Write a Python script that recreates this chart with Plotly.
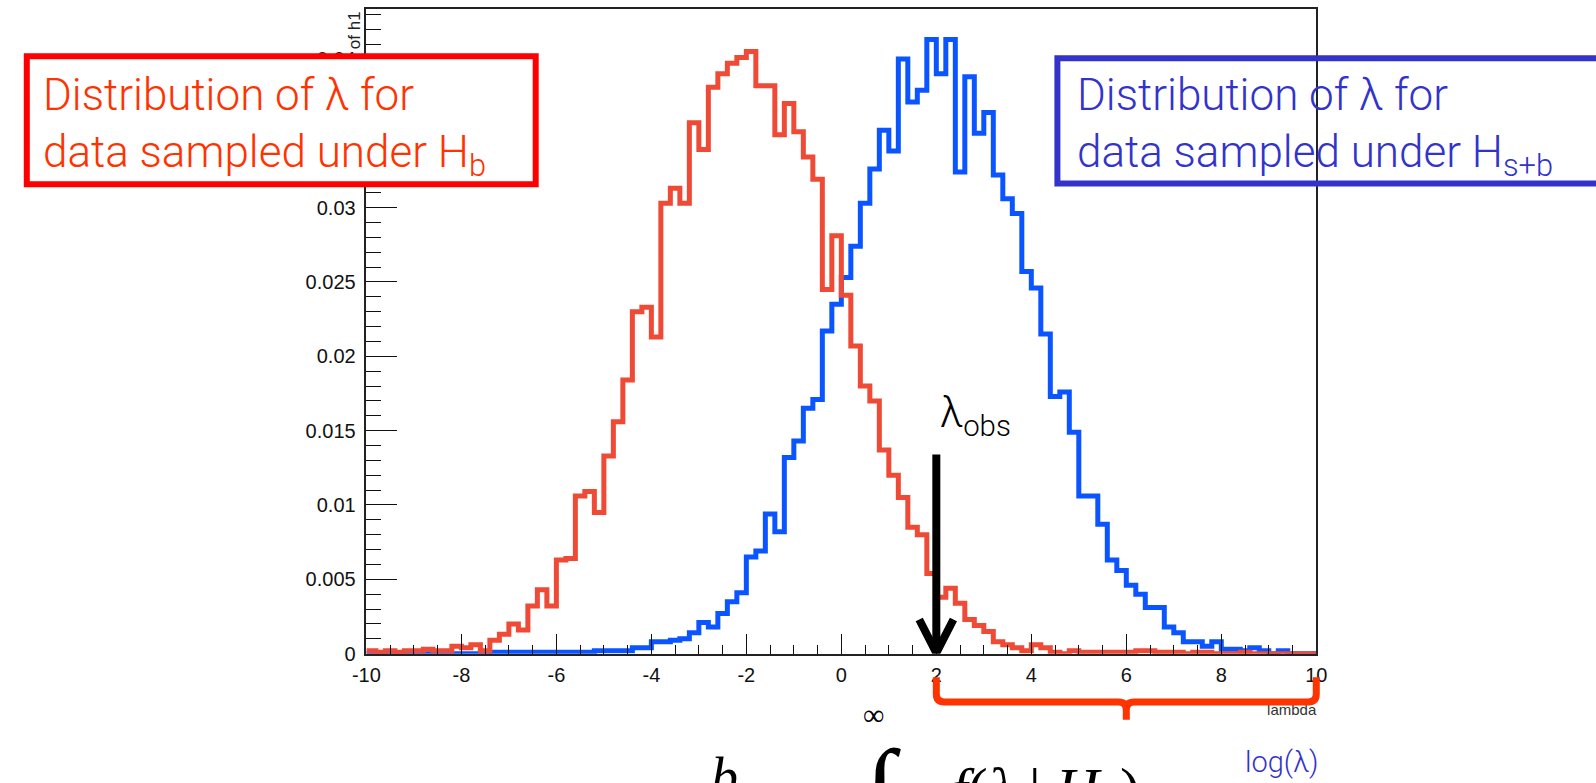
import numpy as np
import plotly.graph_objects as go

W, H = 1596, 783

# Histogram binning: 100 bins on [-10, 10]
x_min, x_max, n_bins = -10.0, 10.0, 100
bin_edges = np.linspace(x_min, x_max, n_bins + 1)

# Normalised bin contents of lambda, data sampled under H_b (red)
h_b = [
    0.0002, 0.0001, 0.0002, 0.0001, 0.0002, 0.0002, 0.0003, 0.0002, 0.0002, 0.0005,
    0.0004, 0.0006, 0.0002, 0.0009, 0.0013, 0.0020, 0.0016, 0.0032, 0.0043, 0.0032,
    0.0063, 0.0064, 0.0106, 0.0109, 0.0095, 0.0133, 0.0156, 0.0184, 0.0230, 0.0233,
    0.0213, 0.0303, 0.0313, 0.0303, 0.0357, 0.0339, 0.0381, 0.0390, 0.0397, 0.0401,
    0.0405, 0.0382, 0.0382, 0.0349, 0.0370, 0.0351, 0.0334, 0.0319, 0.0245, 0.0281,
    0.0241, 0.0207, 0.0180, 0.0170, 0.0137, 0.0120, 0.0105, 0.0085, 0.0080, 0.0054,
    0.0038, 0.0044, 0.0034, 0.0023, 0.0019, 0.0015, 0.0008, 0.0006, 0.0004, 0.0002,
    0.0006, 0.0004, 0.0001, 0.0000, 0.0002, 0.0001, 0.0001, 0.0001, 0.0001, 0.0001,
    0.0001, 0.0002, 0.0002, 0.0001, 0.0001, 0.0001, 0.0000, 0.0001, 0.0001, 0.0000,
    0.0000, 0.0000, 0.0001, 0.0000, 0.0000, 0.0000, 0.0000, 0.0000, 0.0000, 0.0000,
]

# Normalised bin contents of lambda, data sampled under H_s+b (blue)
h_sb = [
    0.0000, 0.0000, 0.0000, 0.0000, 0.0000, 0.0000, 0.0000, 0.0000, 0.0000, 0.0000,
    0.0000, 0.0000, 0.0001, 0.0001, 0.0001, 0.0001, 0.0001, 0.0001, 0.0001, 0.0001,
    0.0001, 0.0001, 0.0001, 0.0001, 0.0002, 0.0002, 0.0002, 0.0002, 0.0004, 0.0004,
    0.0008, 0.0008, 0.0009, 0.0010, 0.0014, 0.0021, 0.0018, 0.0027, 0.0035, 0.0041,
    0.0065, 0.0069, 0.0094, 0.0082, 0.0132, 0.0143, 0.0165, 0.0171, 0.0217, 0.0235,
    0.0253, 0.0274, 0.0303, 0.0326, 0.0352, 0.0338, 0.0400, 0.0371, 0.0379, 0.0413,
    0.0390, 0.0413, 0.0324, 0.0388, 0.0350, 0.0364, 0.0322, 0.0306, 0.0296, 0.0257,
    0.0246, 0.0215, 0.0173, 0.0176, 0.0149, 0.0106, 0.0106, 0.0087, 0.0063, 0.0056,
    0.0046, 0.0040, 0.0031, 0.0031, 0.0018, 0.0014, 0.0008, 0.0008, 0.0005, 0.0008,
    0.0003, 0.0003, 0.0002, 0.0004, 0.0002, 0.0000, 0.0002, 0.0000, 0.0000, 0.0000,
]

lambda_obs = 2.0

x_tick_values = [-10, -8, -6, -4, -2, 0, 2, 4, 6, 8, 10]
x_tick_labels = ["-10", "-8", "-6", "-4", "-2", "0", "2", "4", "6", "8", "10"]
y_tick_values = [0, 0.005, 0.01, 0.015, 0.02, 0.025, 0.03, 0.035, 0.04]
y_tick_labels = ["0", "0.005", "0.01", "0.015", "0.02", "0.025", "0.03", "0.035", "0.04"]

RED_HIST = "#EE4A36"
BLUE_HIST = "#0A55FF"
RED_BOX = "#FF0000"
RED_TEXT = "#FF3300"
BLUE_BOX = "#3333CC"
BRACE = "#FF3300"

TEXT_FONT = "Roboto"
AXIS_FONT = "Liberation Sans"
MATH_FONT = "Liberation Serif"

# frame of the histogram pad, in pixels
FL, FR, FT, FB = 358, 1323, 9, 663


def fx(p):
    return p / W


def fy(p):
    return 1 - p / H


def xdom(v):
    """data x -> paper x"""
    return fx(FL) + (v - x_min) / (x_max - x_min) * (fx(FR) - fx(FL))


y_top = 1.05 * max(max(h_b), max(h_sb))

fig = go.Figure()

for vals, col in ((h_sb, BLUE_HIST), (h_b, RED_HIST)):
    fig.add_trace(go.Scatter(
        x=bin_edges, y=list(vals) + [vals[-1]],
        mode="lines", line=dict(color=col, width=5, shape="hv"),
        showlegend=False, hoverinfo="skip",
    ))

# x-axis title in a helper subplot below the frame, so the brace can sit over it
fig.add_trace(go.Scatter(
    x=[x_max], y=[fy(721)], mode="text", text=["lambda"],
    textposition="middle left", cliponaxis=False,
    textfont=dict(family=AXIS_FONT, size=15, color="#333333"),
    xaxis="x2", yaxis="y2", showlegend=False, hoverinfo="skip",
))

fig.update_layout(
    width=W, height=H,
    margin=dict(l=0, r=0, t=0, b=0),
    paper_bgcolor="white", plot_bgcolor="white",
    xaxis=dict(
        domain=[fx(FL), fx(FR)], range=[x_min, x_max],
        showgrid=False, zeroline=False,
        showline=True, linecolor="#222222", linewidth=1.5, mirror=True,
        ticks="inside", ticklen=20, tickwidth=1.3, tickcolor="#111111",
        tickvals=x_tick_values, ticktext=x_tick_labels,
        tickfont=dict(family=AXIS_FONT, size=20, color="#111111"),
        ticklabelstandoff=3,
        minor=dict(ticks="inside", ticklen=9, tickwidth=1.3, tickcolor="#111111",
                   tick0=x_min, dtick=0.5),
        anchor="y",
    ),
    yaxis=dict(
        domain=[fy(FB), fy(FT)], range=[0, y_top],
        showgrid=False, zeroline=False,
        showline=True, linecolor="#222222", linewidth=1.5, mirror=True,
        ticks="inside", ticklen=31, tickwidth=1.3, tickcolor="#111111",
        tickvals=y_tick_values, ticktext=y_tick_labels,
        tickfont=dict(family=AXIS_FONT, size=20, color="#111111"),
        ticklabelstandoff=5,
        minor=dict(ticks="inside", ticklen=15, tickwidth=1.3, tickcolor="#111111",
                   tick0=0, dtick=0.001),
        anchor="x",
    ),
    xaxis2=dict(domain=[fx(FL), fx(FR)], range=[x_min, x_max], visible=False,
                anchor="y2"),
    yaxis2=dict(domain=[0, fy(FB) - 0.001], range=[0, fy(FB) - 0.001],
                visible=False, anchor="x2"),
)

shapes = []
# hypothesis boxes
shapes.append(dict(type="rect", xref="paper", yref="paper",
                   x0=fx(13), x1=fx(530), y0=fy(187), y1=fy(57),
                   line=dict(color=RED_BOX, width=6), fillcolor="white",
                   layer="above"))
shapes.append(dict(type="rect", xref="paper", yref="paper",
                   x0=fx(1060), x1=fx(1620), y0=fy(186), y1=fy(59),
                   line=dict(color=BLUE_BOX, width=6),
                   fillcolor="rgba(0,0,0,0)", layer="above"))

# arrow marking the observed value
shaft_top = 0.0134
shapes.append(dict(type="line", xref="x", yref="y",
                   x0=lambda_obs, x1=lambda_obs, y0=shaft_top, y1=0.0002,
                   line=dict(color="black", width=8), layer="above"))
shapes.append(dict(type="path", xref="x", yref="y",
                   path=f"M {lambda_obs - 0.36},{0.0023} L {lambda_obs},{0.00005} "
                        f"L {lambda_obs + 0.36},{0.0023}",
                   line=dict(color="black", width=8), layer="above"))

# curly brace over [lambda_obs, x_max]
bx0, bx1 = xdom(lambda_obs), xdom(x_max)
bxc = xdom((lambda_obs + x_max) / 2)
b_top, b_mid, b_tip = fy(687), fy(712), fy(730)
rx = 8 / W
ry = 8 / H
brace = (f"M {bx0},{b_top} L {bx0},{b_mid + ry} Q {bx0},{b_mid} {bx0 + rx},{b_mid} "
         f"L {bxc - rx},{b_mid} Q {bxc},{b_mid} {bxc},{b_mid - ry} L {bxc},{b_tip} "
         f"M {bxc},{b_mid - ry} Q {bxc},{b_mid} {bxc + rx},{b_mid} "
         f"L {bx1 - rx},{b_mid} Q {bx1},{b_mid} {bx1},{b_mid + ry} L {bx1},{b_top}")
shapes.append(dict(type="path", xref="paper", yref="paper", path=brace,
                   line=dict(color=BRACE, width=7), layer="above"))
fig.update_layout(shapes=shapes)

ann = []
# y-axis title (the visible part above the red box)
ann.append(dict(xref="paper", yref="paper", x=fx(346), y=fy(31), text="of h1",
                textangle=-90, showarrow=False, xanchor="center", yanchor="middle",
                font=dict(family=AXIS_FONT, size=17, color="#222222")))

box_font = dict(family=TEXT_FONT, size=44, weight=300)
ann.append(dict(xref="paper", yref="paper", x=fx(27), y=fy(68),
                text="Distribution of λ for<br>data sampled under H<sub>b</sub>",
                showarrow=False, xanchor="left", yanchor="top", align="left",
                font=dict(color=RED_TEXT, **box_font)))
ann.append(dict(xref="paper", yref="paper", x=fx(1078), y=fy(68),
                text="Distribution of λ for<br>data sampled under H<sub>s+b</sub>",
                showarrow=False, xanchor="left", yanchor="top", align="left",
                font=dict(color=BLUE_BOX, **box_font)))

ann.append(dict(xref="paper", yref="paper", x=fx(939), y=fy(391),
                text="λ<sub>obs</sub>", showarrow=False, xanchor="left", yanchor="top",
                font=dict(family=TEXT_FONT, size=42, weight=300, color="black")))

ann.append(dict(xref="paper", yref="paper", x=fx(1249), y=fy(792),
                text="log(λ)", showarrow=False, xanchor="left", yanchor="bottom",
                font=dict(family=TEXT_FONT, size=29, weight=300, color=BLUE_BOX)))

# p-value integral, cut by the lower page edge
ann.append(dict(xref="paper", yref="paper", x=fx(873), y=fy(725),
                text="∞", showarrow=False, xanchor="center", yanchor="middle",
                font=dict(family=MATH_FONT, size=30, color="black")))
ann.append(dict(xref="paper", yref="paper", x=fx(880), y=fy(736),
                text="∫", showarrow=False, xanchor="center", yanchor="top",
                font=dict(family=MATH_FONT, size=110, color="black")))
ann.append(dict(xref="paper", yref="paper", x=fx(706), y=fy(756),
                text="<i>b</i>", showarrow=False, xanchor="left", yanchor="top",
                font=dict(family=MATH_FONT, size=54, color="black")))
ann.append(dict(xref="paper", yref="paper", x=fx(950), y=fy(765),
                text="<i>f</i>(<i>λ</i> | <i>H</i><sub><i>b</i></sub>)",
                showarrow=False, xanchor="left", yanchor="top",
                font=dict(family=MATH_FONT, size=60, color="black")))
fig.update_layout(annotations=ann)

fig.write_html("out.html")
